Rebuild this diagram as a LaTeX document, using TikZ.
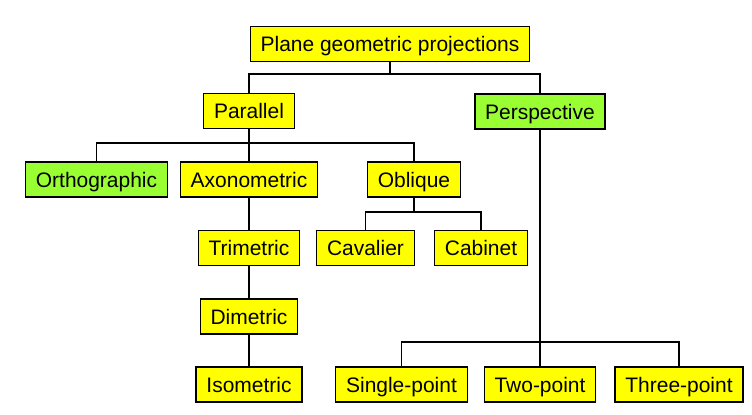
\documentclass[tikz,border=0pt]{standalone}
\usepackage{fontspec}
\setmainfont{Liberation Sans}
\usepackage{xcolor}
\usetikzlibrary{positioning}

\definecolor{boxyellow}{RGB}{255,255,0}
\definecolor{boxgreen}{RGB}{153,255,51}

\tikzset{
  box/.style={draw=black,line width=1.1pt,fill=boxyellow,inner xsep=0.31cm,
    inner ysep=0pt,minimum height=1.05cm,text height=12.8pt,text depth=0pt,
    font=\fontsize{17.9}{20}\selectfont},
  gbox/.style={box,fill=boxgreen},
  link/.style={line width=1.1pt,draw=black}
}

\begin{document}
\begin{tikzpicture}[x=0.03cm,y=-0.03cm]
      \useasboundingbox (0,0) rectangle (752,414);

      \node[box]  (plane)       at (390,44)    {Plane geometric projections};
      \node[box]  (parallel)    at (249,111)   {Parallel};
      \node[gbox] (perspective) at (540,111.5) {Perspective};
      \node[gbox] (ortho)       at (96.5,179.5) {Orthographic};
      \node[box]  (axono)       at (249,179.5) {Axonometric};
      \node[box]  (oblique)     at (414,179.5) {Oblique};
      \node[box]  (trimetric)   at (249,248)   {Trimetric};
      \node[box]  (cavalier)    at (365.5,248) {Cavalier};
      \node[box]  (cabinet)     at (481,248)   {Cabinet};
      \node[box]  (dimetric)    at (249,316.5) {Dimetric};
      \node[box]  (isometric)   at (249,384.5) {Isometric};
      \node[box]  (single)      at (401.5,384.5) {Single-point};
      \node[box]  (two)         at (540,384.5) {Two-point};
      \node[box]  (three)       at (679,384.5) {Three-point};

      \coordinate (b1) at (390,74);
      \coordinate (b2) at (249,143);
      \coordinate (b3) at (414,212);
      \coordinate (b4) at (540,342);

      \draw[link] (plane.south) -- (b1);
      \draw[link] (parallel.north) |- (b1) -| (perspective.north);

      \draw[link] (parallel.south) -- (axono.north);
      \draw[link] (ortho.north) |- (b2) -| (oblique.north);

      \draw[link] (axono.south) -- (trimetric.north);
      \draw[link] (trimetric.south) -- (dimetric.north);
      \draw[link] (dimetric.south) -- (isometric.north);

      \draw[link] (oblique.south) -- (b3);
      \draw[link] (cavalier.north) |- (b3) -| (cabinet.north);

      \draw[link] (perspective.south) -- (two.north);
      \draw[link] (single.north) |- (b4) -| (three.north);

    \end{tikzpicture}
\end{document}
